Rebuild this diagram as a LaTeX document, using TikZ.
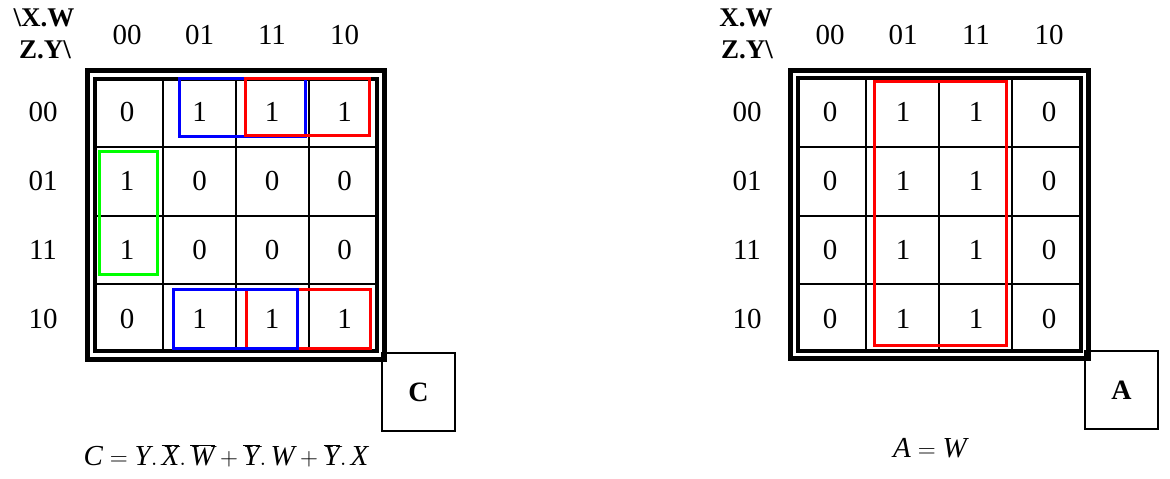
\documentclass[tikz,border=0pt]{standalone}
\usepackage{fontspec}
\setmainfont{Liberation Serif}
\usetikzlibrary{positioning}

\begin{document}
\begin{tikzpicture}[x=1pt,y=-1pt,
  num/.style={font=\fontsize{29}{34}\selectfont},
  head/.style={font=\fontsize{27}{32}\selectfont\bfseries},
  outerframe/.style={line width=5pt},
  innerframe/.style={line width=4pt},
  gridline/.style={line width=1.5pt},
  grp/.style={line width=3pt},
  namebox/.style={draw,line width=2pt,minimum width=73pt,minimum height=78pt,
    inner sep=0pt,font=\fontsize{28}{32}\selectfont\bfseries}]
\useasboundingbox (0,0) rectangle (1170,479);

% Map for C
\draw[outerframe] (87,70.5) rectangle (384,359.5);
\draw[innerframe] (95,79) rectangle (377,351);
\foreach \x in {163,236,309} \draw[gridline] (\x,79) -- (\x,351);
\foreach \y in {147,216,284} \draw[gridline] (95,\y) -- (377,\y);
\node[head] (chx) at (44,18) {\textbackslash X.W};
\node[head] (chy) at (45,50) {Z.Y\textbackslash};
\foreach \t [count=\c] in {00,01,11,10} {
  \node[num] (ccol-\c) at ({127+72.5*(\c-1)},35) {\t};
  \node[num] (crow-\c) at (43,{112+69*(\c-1)}) {\t};
}
\foreach \row [count=\r] in {{0,1,1,1},{1,0,0,0},{1,0,0,0},{0,1,1,1}}
  \foreach \v [count=\c] in \row
    \node[num] (c-\r-\c) at ({127+72.5*(\c-1)},{112+69*(\r-1)}) {\v};
% groups
\draw[grp,blue] (179,78) rectangle (305,136);
\draw[grp,red] (245,78) rectangle (369,135);
\draw[grp,green] (99,151) rectangle (157,274);
\draw[grp,red] (246,289) rectangle (370,348);
\draw[grp,blue] (173,289) rectangle (297,348);
\node[namebox] (cbox) at (418.5,392) {C};
\node[num] (ceq) at (226,456)
  {$\textit{C} = \textit{Y}.\,\overline{\textit{X}}.\,\overline{\textit{W}}
   + \overline{\textit{Y}}.\,\textit{W} + \overline{\textit{Y}}.\,\textit{X}$};

% Map for A
\draw[outerframe] (790,70) rectangle (1088,358);
\draw[innerframe] (798,78) rectangle (1081,351);
\foreach \x in {866,939,1012} \draw[gridline] (\x,78) -- (\x,351);
\foreach \y in {147,216,284} \draw[gridline] (798,\y) -- (1081,\y);
\node[head] (ahx) at (746,18) {X.W};
\node[head] (ahy) at (747,50) {Z.Y\textbackslash};
\foreach \t [count=\c] in {00,01,11,10} {
  \node[num] (acol-\c) at ({830+73*(\c-1)},35) {\t};
  \node[num] (arow-\c) at (747,{112+69*(\c-1)}) {\t};
}
\foreach \r in {1,...,4}
  \foreach \v [count=\c] in {0,1,1,0}
    \node[num] (a-\r-\c) at ({830+73*(\c-1)},{112+69*(\r-1)}) {\v};
\draw[grp,red] (874,81) rectangle (1006,345);
\node[namebox] (abox) at (1121.5,390) {A};
\node[num] (aeq) at (930,448) {$\textit{A} = \textit{W}$};
\end{tikzpicture}
\end{document}
